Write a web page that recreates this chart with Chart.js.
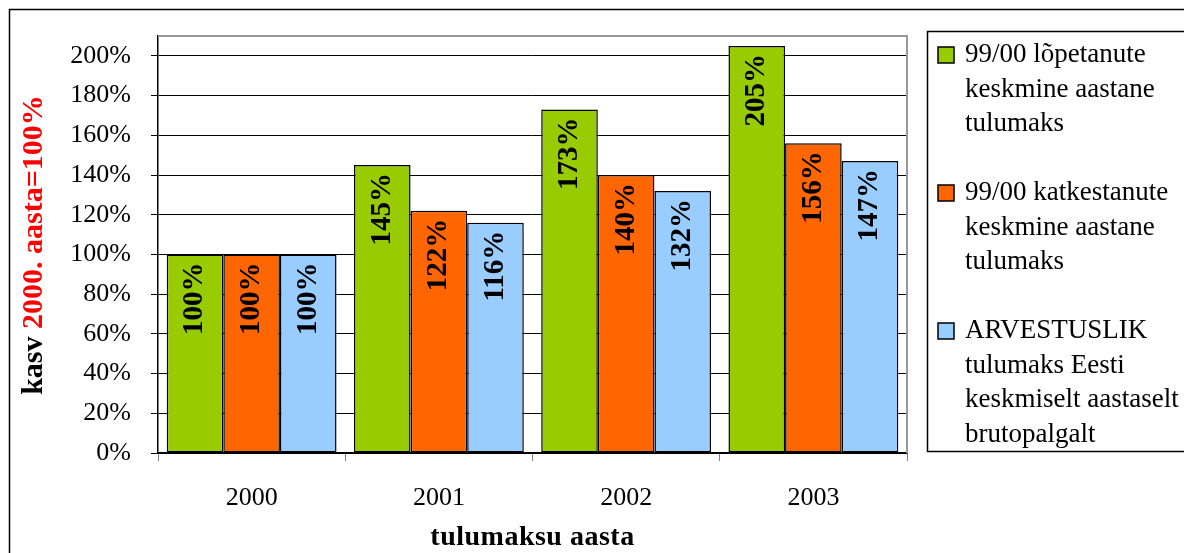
<!DOCTYPE html>
<html>
<head>
<meta charset="utf-8">
<script src="https://cdn.jsdelivr.net/npm/chart.js@4"></script>
<style>
  body { margin: 0; background: #fff; }
  #wrap { width: 1184px; height: 553px; position: relative; }
</style>
</head>
<body>
<div id="wrap"><canvas id="taxChart"></canvas></div>
<script>
// andmed
const years = ["2000", "2001", "2002", "2003"];
const finished = [100, 145, 173, 205];
const dropped = [100, 122, 140, 156];
const estonia = [100, 116, 132, 147];
const yTicks = [0, 20, 40, 60, 80, 100, 120, 140, 160, 180, 200];

const seriesLines = [
    ["99/00 lõpetanute", "keskmine aastane", "tulumaks"],
    ["99/00 katkestanute", "keskmine aastane", "tulumaks"],
    ["ARVESTUSLIK", "tulumaks Eesti", "keskmiselt aastaselt", "brutopalgalt"]
];
const seriesColors = ["#99CC00", "#FF6600", "#99CCFF"];

const serif = "'Liberation Serif', 'Times New Roman', serif";

// raam, legend, telgede pealkirjad
const decorPlugin = {
    id: "decor",
    beforeDraw(chart) {
        const ctx = chart.ctx;
        ctx.save();
        ctx.fillStyle = "#fff";
        ctx.fillRect(0, 0, chart.width, chart.height);
        ctx.restore();
    },
    afterDraw(chart) {
        const ctx = chart.ctx;
        const a = chart.chartArea;
        ctx.save();

        // välimine raam
        ctx.strokeStyle = "#000";
        ctx.lineWidth = 1.5;
        ctx.strokeRect(9.5, 9.5, chart.width + 20, chart.height + 20);

        // joonise ala hall raam (üleval ja paremal)
        ctx.strokeStyle = "#999";
        ctx.lineWidth = 2;
        ctx.beginPath();
        ctx.moveTo(a.left, a.top);
        ctx.lineTo(a.right, a.top);
        ctx.lineTo(a.right, a.bottom);
        ctx.stroke();

        // y telje pealkiri
        ctx.translate(34, 245);
        ctx.rotate(-Math.PI / 2);
        ctx.font = "bold 30px " + serif;
        ctx.textBaseline = "middle";
        ctx.textAlign = "left";
        const p1 = "kasv ", p2 = "2000. aasta=100%";
        const w1 = ctx.measureText(p1).width, w2 = ctx.measureText(p2).width;
        let x = -(w1 + w2) / 2;
        ctx.fillStyle = "#000";
        ctx.fillText(p1, x, 0);
        ctx.fillStyle = "#FF0000";
        ctx.fillText(p2, x + w1, 0);
        ctx.setTransform(1, 0, 0, 1, 0, 0);

        // x telje pealkiri
        ctx.fillStyle = "#000";
        ctx.font = "bold 28px " + serif;
        ctx.letterSpacing = "0.5px";
        ctx.textAlign = "center";
        ctx.fillText("tulumaksu aasta", (a.left + a.right) / 2, 538);
        ctx.letterSpacing = "0px";

        // legend
        ctx.strokeStyle = "#000";
        ctx.lineWidth = 1.5;
        ctx.strokeRect(927.5, 31.5, 300, 420);
        ctx.font = "27px " + serif;
        ctx.textAlign = "left";
        ctx.textBaseline = "middle";
        const lh = 34.5;
        let y = 55;
        chart.data.datasets.forEach((ds, i) => {
            ctx.fillStyle = ds.backgroundColor;
            ctx.fillRect(938, y - 8, 16, 16);
            ctx.strokeRect(938, y - 8, 16, 16);
            ctx.fillStyle = "#000";
            seriesLines[i].forEach((line, j) => {
                ctx.fillText(line, 965, y + j * lh);
            });
            y += lh * 4;
        });
        ctx.restore();
    },
    afterDatasetsDraw(chart) {
        // väärtused tulpade sees
        const ctx = chart.ctx;
        ctx.save();
        ctx.font = "bold 29px " + serif;
        ctx.fillStyle = "#000";
        ctx.textAlign = "right";
        ctx.textBaseline = "middle";
        chart.data.datasets.forEach((ds, i) => {
            chart.getDatasetMeta(i).data.forEach((bar, j) => {
                ctx.save();
                ctx.translate(bar.x, bar.y + 8);
                ctx.rotate(-Math.PI / 2);
                ctx.fillText(ds.data[j] + "%", 0, 0);
                ctx.restore();
            });
        });
        ctx.restore();
    }
};

const datasets = [finished, dropped, estonia].map((vals, i) => ({
    label: seriesLines[i].join(" "),
    data: vals,
    backgroundColor: seriesColors[i],
    borderColor: "#000",
    borderWidth: 1.5,
    borderSkipped: false,
    barPercentage: 1.0,
    categoryPercentage: 0.907
}));

new Chart(document.getElementById("taxChart"), {
    type: "bar",
    data: { labels: years, datasets: datasets },
    plugins: [decorPlugin],
    options: {
        responsive: true,
        maintainAspectRatio: false,
        animation: false,
        layout: { padding: { left: 0, top: 36, right: 277, bottom: 0 } },
        plugins: {
            legend: { display: false },
            tooltip: { enabled: false }
        },
        scales: {
            x: {
                afterFit(scale) { scale.height = 100; },
                grid: {
                    offset: true,
                    drawOnChartArea: false,
                    drawTicks: true,
                    tickLength: 8,
                    color: "#808080"
                },
                border: { color: "#000", width: 1.5 },
                ticks: {
                    color: "#000",
                    padding: 22,
                    font: { family: serif, size: 26 }
                }
            },
            y: {
                min: 0,
                max: 210,
                afterFit(scale) { scale.width = 158; },
                afterBuildTicks(scale) {
                    scale.ticks = yTicks.map(v => ({ value: v }));
                },
                grid: {
                    color: "#000",
                    lineWidth: 1,
                    drawTicks: true,
                    tickLength: 7
                },
                border: { color: "#000", width: 1.5 },
                ticks: {
                    color: "#000",
                    padding: 20,
                    font: { family: serif, size: 26 },
                    callback: v => v + "%"
                }
            }
        }
    }
});
</script>
</body>
</html>
